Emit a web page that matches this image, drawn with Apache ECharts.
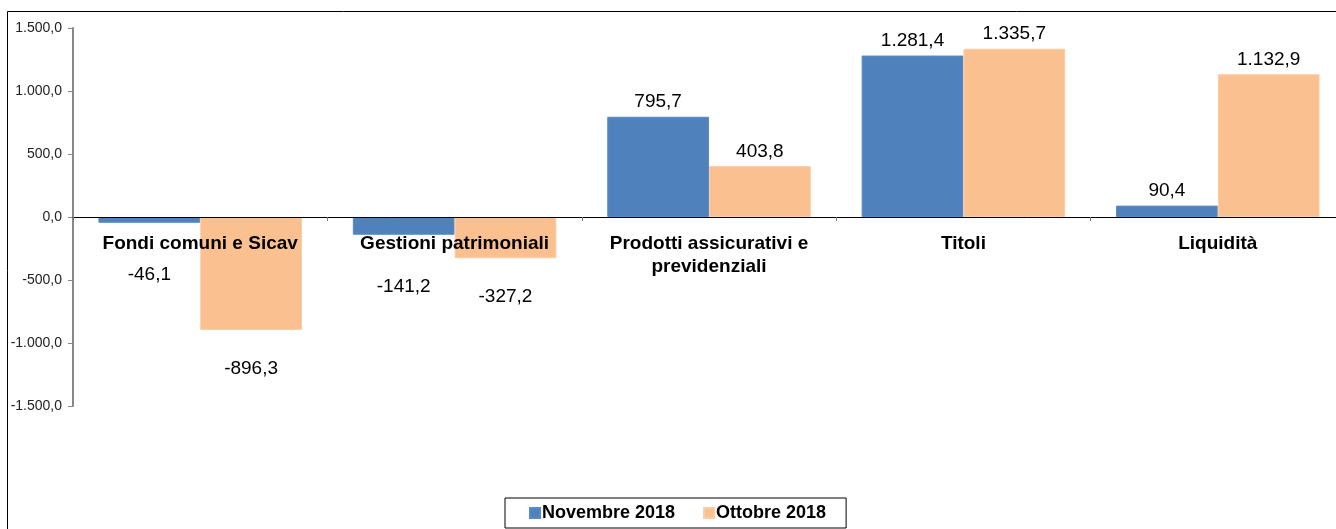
<!DOCTYPE html>
<html>
<head>
<meta charset="utf-8">
<script src="https://cdn.jsdelivr.net/npm/echarts@6/dist/echarts.min.js"></script>
<style>
  html, body { margin: 0; padding: 0; background: #fff; overflow: hidden; }
  /* il grafico originale e' tagliato a destra: div piu' largo della finestra */
  #main { width: 1360px; height: 529px; }
</style>
</head>
<body>
<div id="main"></div>
<script>
// categorie e valori (milioni di euro)
var categorie = ['Fondi comuni e Sicav', 'Gestioni patrimoniali', 'Prodotti assicurativi e\nprevidenziali', 'Titoli', 'Liquidità'];
var novembre2018 = [-46.1, -141.2, 795.7, 1281.4, 90.4];
var ottobre2018 = [-896.3, -327.2, 403.8, 1335.7, 1132.9];
var nomiSerie = ['Novembre 2018', 'Ottobre 2018'];

// formato italiano: 1.281,4
function fmt(v) {
  var s = Math.abs(v).toFixed(1).split('.');
  var intero = s[0].replace(/\B(?=(\d{3})+(?!\d))/g, '.');
  return (v < 0 ? '-' : '') + intero + ',' + s[1];
}

function punti(arr, distNeg) {
  return arr.map(function (v) {
    return {
      value: v,
      label: v < 0 ? { position: 'bottom', distance: distNeg } : { position: 'top', distance: 5 }
    };
  });
}

var chart = echarts.init(document.getElementById('main'));
chart.setOption({
  animation: false,
  textStyle: { fontFamily: 'Liberation Sans, Arial, sans-serif' },
  graphic: [{
    type: 'rect',
    shape: { x: 7.5, y: 11.5, width: 1345, height: 540 },
    style: { fill: null, stroke: '#000', lineWidth: 1 },
    silent: true
  }],
  legend: {
    data: nomiSerie,
    bottom: 1,
    left: 505,
    itemWidth: 10,
    itemHeight: 10,
    itemGap: 28,
    padding: [6, 20, 6, 24],
    borderColor: '#000',
    borderWidth: 1,
    icon: 'rect',
    textStyle: { fontSize: 18, fontWeight: 'bold', color: '#000', padding: [0, 0, 0, -3] }
  },
  grid: { left: 73, top: 28, width: 1272, height: 378, containLabel: false },
  xAxis: {
    type: 'category',
    data: categorie,
    z: 5,
    axisLine: { onZero: true, lineStyle: { color: '#000', width: 1 } },
    axisTick: { show: true, inside: false, length: 4, lineStyle: { color: '#777' } },
    // le etichette restano in basso: le riporto sotto lo zero
    axisLabel: { fontSize: 19, fontWeight: 'bold', color: '#000', margin: -174, lineHeight: 23, interval: 0 }
  },
  yAxis: {
    type: 'value',
    min: -1500,
    max: 1500,
    interval: 500,
    axisLine: { show: true, lineStyle: { color: '#888', width: 2 } },
    axisTick: { show: true, length: 5, lineStyle: { color: '#888' } },
    splitLine: { show: false },
    axisLabel: { fontSize: 14, color: '#222', margin: 11, formatter: fmt }
  },
  series: [
    {
      name: nomiSerie[0],
      type: 'bar',
      data: punti(novembre2018, 42),
      barGap: '0%',
      barCategoryGap: '20%',
      itemStyle: { color: '#4F81BD', borderColor: '#5A8BC6', borderWidth: 1 },
      label: { show: true, fontSize: 19, color: '#000', formatter: function (p) { return fmt(p.value); } }
    },
    {
      name: nomiSerie[1],
      type: 'bar',
      data: punti(ottobre2018, 29),
      barGap: '0%',
      barCategoryGap: '20%',
      itemStyle: { color: '#FAC090', borderColor: '#FBCDA6', borderWidth: 1 },
      label: { show: true, fontSize: 19, color: '#000', formatter: function (p) { return fmt(p.value); } }
    }
  ]
});
</script>
</body>
</html>
